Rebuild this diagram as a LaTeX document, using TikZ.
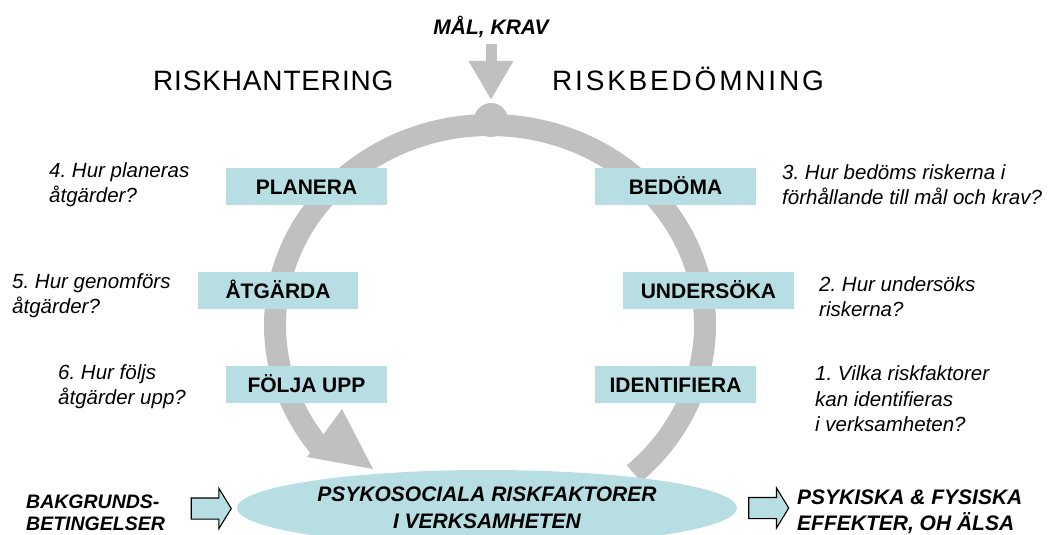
\documentclass[tikz,border=0pt]{standalone}
\usepackage{fontspec}
\setmainfont{Liberation Sans}
\usepackage{tikz}
\usetikzlibrary{arrows.meta,shapes.geometric,shapes.arrows}
\frenchspacing

\definecolor{cyclegray}{RGB}{192,192,192}
\definecolor{boxteal}{RGB}{183,223,227}

\tikzset{
  stepbox/.style={fill=boxteal, inner sep=0pt, minimum height=37pt,
    font=\fontsize{21}{25}\selectfont\bfseries, text height=15pt, text depth=0pt},
  question/.style={anchor=west, align=left, inner sep=0pt,
    font=\fontsize{20.5}{25.5}\selectfont\itshape},
  heading/.style={anchor=base west, inner sep=0pt, font=\fontsize{28}{32}\selectfont},
  boldlabel/.style={inner sep=0pt, align=left, font=\fontsize{21}{25.5}\selectfont\bfseries\itshape},
  flowarrow/.style={single arrow, draw=black, line width=1.1pt, fill=boxteal,
    minimum height=40pt, inner xsep=0pt, inner ysep=10pt, single arrow head extend=9.5pt,
    single arrow tip angle=117}
}

\begin{document}
\begin{tikzpicture}[x=1pt,y=-1pt]
            \useasboundingbox (0,0) rectangle (1058,535);
            \clip (0,0) rectangle (1058,535);

            \coordinate (C) at (490,325);
            \coordinate (goalbase) at (491,44);
            \coordinate (goaltip) at (491,100);

            % cycle
            \draw[cyclegray, line width=22pt] ([shift={(48:215 and 200)}]C)
                arc[start angle=48, end angle=-218, x radius=215, y radius=200];
            \fill[cyclegray] (307,457) -- (342,409) -- (373,469) -- cycle;
            \fill[cyclegray] (491,120) circle[radius=17];

            % goal arrow
            \node[boldlabel] (goal) at (491,27) {MÅL, KRAV};
            \draw[cyclegray, line width=11pt, -{Triangle[length=39pt,width=42pt]}] (goalbase) -- (goaltip);

            % headings
            \node[heading, font=\fontsize{28}{32}\selectfont\addfontfeature{LetterSpace=3}] (hantering) at (153,91) {RISKHANTERING};
            \node[heading, font=\fontsize{28}{32}\selectfont\addfontfeature{LetterSpace=10}] (bedomning) at (552,91) {RISKBEDÖMNING};

            % steps
            \node[stepbox, minimum width=161pt] (planera) at (306.5,186.5) {PLANERA};
            \node[stepbox, minimum width=160pt] (atgarda) at (278,290.5) {ÅTGÄRDA};
            \node[stepbox, minimum width=161pt] (folja) at (306.5,384.5) {FÖLJA UPP};
            \node[stepbox, minimum width=161pt] (bedoma) at (675.5,186.5) {BEDÖMA};
            \node[stepbox, minimum width=171pt] (undersoka) at (708.5,290.5) {UNDERSÖKA};
            \node[stepbox, minimum width=161pt] (identifiera) at (675.5,384.5) {IDENTIFIERA};

            % questions
            \node[question] (q4) at (49,184.5) {4. Hur planeras\\åtgärder?};
            \node[question] (q5) at (12,295.5) {5. Hur genomförs\\åtgärder?};
            \node[question] (q6) at (58,386.5) {6. Hur följs\\åtgärder upp?};
            \node[question] (q3) at (782,184.5) {3. Hur bedöms riskerna i\\förhållande till mål och krav?};
            \node[question] (q2) at (819,296.5) {2. Hur undersöks\\riskerna?};
            \node[question] (q1) at (815,399) {1. Vilka riskfaktorer\\kan identifieras\\i verksamheten?};

            % bottom row
            \node[ellipse, fill=boxteal, minimum width=500pt, minimum height=76pt, inner sep=0pt,
                  align=center, font=\fontsize{21}{27}\selectfont\bfseries\itshape] (risk) at (487,508)
                  {PSYKOSOCIALA RISKFAKTORER\\I VERKSAMHETEN};
            \node[boldlabel, anchor=west, font=\fontsize{19.5}{22}\selectfont\bfseries\itshape] (bakgrund) at (26,513) {BAKGRUNDS-\\BETINGELSER};
            \node[boldlabel, anchor=west] (effekter) at (797,512) {PSYKISKA \& FYSISKA\\EFFEKTER, OH ÄLSA};
            \node[flowarrow] (inarrow) at (208,508.5) {};
            \node[flowarrow] (outarrow) at (765.5,508) {};
        \end{tikzpicture}
\end{document}
